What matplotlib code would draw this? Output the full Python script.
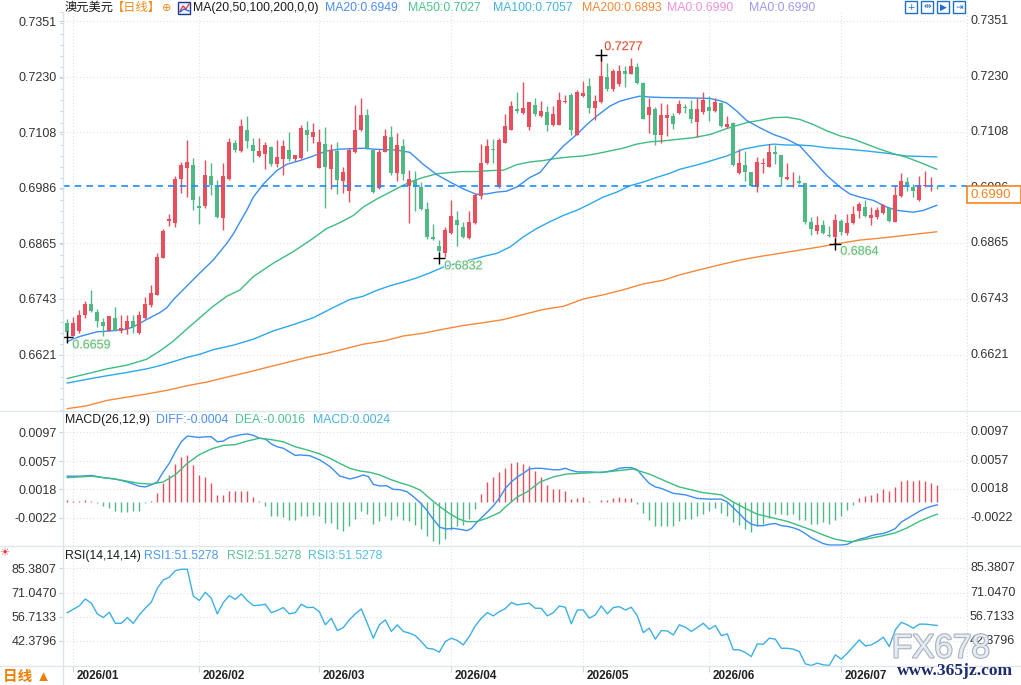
import numpy as np
import matplotlib
matplotlib.use("Agg")
import matplotlib.pyplot as plt
from matplotlib.patches import Rectangle
from matplotlib.lines import Line2D
import matplotlib.patheffects as pe
import matplotlib.transforms as mtrans

plt.rcParams['font.family'] = ['Liberation Sans', 'Noto Sans CJK SC', 'DejaVu Sans']

# ---------------- data ----------------
opens = [
    0.6690, 0.6662, 0.6673, 0.6708, 0.6733, 0.6715, 0.6693, 0.6674, 0.6702, 0.6674,
    0.6678, 0.6694, 0.6668, 0.6701, 0.6730, 0.6752, 0.6833, 0.6914, 0.6909, 0.7006,
    0.7030, 0.7037, 0.6946, 0.6946, 0.7012, 0.6989, 0.6920, 0.7005, 0.7085, 0.7066,
    0.7113, 0.7080, 0.7055, 0.7061, 0.7076, 0.7038, 0.7049, 0.7069, 0.7050, 0.7051,
    0.7113, 0.7098, 0.7030, 0.7082, 0.7027, 0.7067, 0.7001, 0.6979, 0.7064, 0.7113,
    0.7145, 0.7069, 0.6985, 0.7065, 0.7098, 0.7018, 0.7078, 0.6990, 0.7003, 0.6989,
    0.6941, 0.6879, 0.6859, 0.6843, 0.6888, 0.6915, 0.6901, 0.6876, 0.6909, 0.6969,
    0.7040, 0.7072, 0.6988, 0.7085, 0.7113, 0.7159, 0.7150, 0.7120, 0.7167, 0.7144,
    0.7153, 0.7123, 0.7124, 0.7174, 0.7190, 0.7102, 0.7187, 0.7210, 0.7161, 0.7174,
    0.7228, 0.7203, 0.7214, 0.7241, 0.7236, 0.7250, 0.7215, 0.7145, 0.7158, 0.7101,
    0.7140, 0.7143, 0.7150, 0.7163, 0.7158, 0.7131, 0.7153, 0.7163, 0.7154, 0.7173,
    0.7119, 0.7129, 0.7018, 0.7037, 0.7020, 0.6989, 0.7038, 0.7032, 0.7065, 0.7058,
    0.7006, 0.7003, 0.7002, 0.6996, 0.6911, 0.6892, 0.6904, 0.6883, 0.6878, 0.6914,
    0.6888, 0.6909, 0.6935, 0.6944, 0.6920, 0.6922, 0.6932, 0.6943, 0.6912, 0.6968,
    0.6998, 0.6988, 0.6959, 0.6990, 0.6990, 0.6991]
highs = [
    0.6700, 0.6704, 0.6718, 0.6739, 0.6763, 0.6721, 0.6702, 0.6706, 0.6725, 0.6708,
    0.6708, 0.6708, 0.6716, 0.6747, 0.6774, 0.6843, 0.6896, 0.6928, 0.7013, 0.7042,
    0.7091, 0.7051, 0.6968, 0.7048, 0.7041, 0.7004, 0.7041, 0.7095, 0.7091, 0.7138,
    0.7143, 0.7095, 0.7095, 0.7087, 0.7077, 0.7091, 0.7091, 0.7109, 0.7059, 0.7124,
    0.7132, 0.7129, 0.7116, 0.7119, 0.7082, 0.7087, 0.7032, 0.7074, 0.7167, 0.7184,
    0.7158, 0.7070, 0.7072, 0.7115, 0.7121, 0.7107, 0.7093, 0.7025, 0.7024, 0.6998,
    0.6955, 0.6908, 0.6872, 0.6901, 0.6959, 0.6935, 0.6912, 0.6935, 0.6975, 0.7082,
    0.7093, 0.7093, 0.7096, 0.7147, 0.7176, 0.7195, 0.7219, 0.7175, 0.7183, 0.7176,
    0.7165, 0.7165, 0.7197, 0.7190, 0.7194, 0.7200, 0.7221, 0.7226, 0.7189, 0.7277,
    0.7259, 0.7246, 0.7255, 0.7254, 0.7270, 0.7259, 0.7218, 0.7184, 0.7163, 0.7172,
    0.7170, 0.7150, 0.7178, 0.7170, 0.7179, 0.7183, 0.7197, 0.7187, 0.7183, 0.7174,
    0.7143, 0.7130, 0.7071, 0.7067, 0.7021, 0.7053, 0.7051, 0.7083, 0.7080, 0.7059,
    0.7040, 0.7020, 0.7015, 0.6997, 0.6922, 0.6925, 0.6915, 0.6902, 0.6930, 0.6917,
    0.6928, 0.6946, 0.6956, 0.6959, 0.6944, 0.6944, 0.6951, 0.6944, 0.6991, 0.7018,
    0.7011, 0.6995, 0.7013, 0.7024, 0.7011, 0.6993]
lows = [
    0.6659, 0.6661, 0.6668, 0.6702, 0.6715, 0.6682, 0.6662, 0.6673, 0.6673, 0.6669,
    0.6667, 0.6669, 0.6666, 0.6700, 0.6725, 0.6751, 0.6833, 0.6902, 0.6901, 0.6975,
    0.6966, 0.6937, 0.6908, 0.6943, 0.6970, 0.6921, 0.6895, 0.7004, 0.7064, 0.7065,
    0.7074, 0.7043, 0.7053, 0.7027, 0.7035, 0.7032, 0.7014, 0.7046, 0.7046, 0.7050,
    0.7066, 0.7085, 0.7029, 0.6943, 0.6984, 0.6973, 0.6975, 0.6955, 0.7063, 0.7111,
    0.7072, 0.6976, 0.6983, 0.7064, 0.7015, 0.7001, 0.7004, 0.6909, 0.6935, 0.6937,
    0.6875, 0.6872, 0.6832, 0.6834, 0.6886, 0.6859, 0.6877, 0.6875, 0.6908, 0.6962,
    0.7038, 0.7040, 0.6986, 0.7084, 0.7112, 0.7150, 0.7149, 0.7113, 0.7143, 0.7142,
    0.7111, 0.7121, 0.7123, 0.7172, 0.7101, 0.7101, 0.7186, 0.7150, 0.7134, 0.7173,
    0.7199, 0.7199, 0.7210, 0.7208, 0.7235, 0.7213, 0.7137, 0.7106, 0.7080, 0.7085,
    0.7100, 0.7116, 0.7147, 0.7150, 0.7129, 0.7098, 0.7147, 0.7132, 0.7153, 0.7120,
    0.7118, 0.7035, 0.7017, 0.7002, 0.6990, 0.6977, 0.7018, 0.7031, 0.7038, 0.6991,
    0.7004, 0.6988, 0.6995, 0.6908, 0.6883, 0.6886, 0.6886, 0.6879, 0.6864, 0.6883,
    0.6883, 0.6908, 0.6921, 0.6922, 0.6904, 0.6919, 0.6930, 0.6912, 0.6911, 0.6966,
    0.6980, 0.6966, 0.6958, 0.6989, 0.6980, 0.6983]
closes = [
    0.6671, 0.6690, 0.6709, 0.6733, 0.6716, 0.6695, 0.6684, 0.6705, 0.6676, 0.6679,
    0.6694, 0.6682, 0.6708, 0.6731, 0.6757, 0.6834, 0.6891, 0.6917, 0.7006, 0.7037,
    0.7043, 0.6960, 0.6943, 0.7015, 0.6992, 0.6922, 0.7012, 0.7087, 0.7070, 0.7121,
    0.7088, 0.7066, 0.7067, 0.7080, 0.7038, 0.7053, 0.7077, 0.7049, 0.7058, 0.7117,
    0.7101, 0.7108, 0.7087, 0.7031, 0.7069, 0.7003, 0.7022, 0.7069, 0.7113, 0.7145,
    0.7073, 0.6977, 0.7065, 0.7100, 0.7018, 0.7080, 0.7017, 0.7006, 0.6989, 0.6941,
    0.6879, 0.6874, 0.6849, 0.6895, 0.6924, 0.6904, 0.6878, 0.6911, 0.6970, 0.7040,
    0.7078, 0.7069, 0.7091, 0.7121, 0.7165, 0.7154, 0.7161, 0.7174, 0.7148, 0.7154,
    0.7124, 0.7148, 0.7179, 0.7177, 0.7112, 0.7196, 0.7193, 0.7161, 0.7176, 0.7232,
    0.7203, 0.7242, 0.7243, 0.7235, 0.7252, 0.7216, 0.7138, 0.7163, 0.7102, 0.7145,
    0.7145, 0.7125, 0.7170, 0.7160, 0.7137, 0.7158, 0.7178, 0.7155, 0.7174, 0.7121,
    0.7127, 0.7036, 0.7040, 0.7022, 0.6991, 0.7043, 0.7041, 0.7065, 0.7061, 0.7009,
    0.7011, 0.7004, 0.6996, 0.6912, 0.6896, 0.6904, 0.6888, 0.6881, 0.6915, 0.6890,
    0.6910, 0.6930, 0.6950, 0.6925, 0.6926, 0.6937, 0.6948, 0.6914, 0.6970, 0.7002,
    0.6993, 0.6979, 0.6993, 0.6993, 0.6991, 0.6990]

# moving averages (day number, value)
ma20_day = [1, 3.1, 5.9, 8.1, 10.9, 12, 14.2, 16.4, 17.6, 18.7, 20.9, 23.1, 25.3, 27.6, 28.7,
            29.8, 30.9, 32, 33.7, 35.9, 37.6, 39.8, 42, 44.2, 46.4, 50.3, 52, 55.9, 58.1,
            60.3, 62.6, 64.8, 67, 69.2, 70.9, 72.6, 74.2, 75.9, 78.1, 79.8, 81.4, 83.7, 85.9,
            87.6, 89.2, 91.4, 93.1, 94.8, 96.4, 98.1, 100.3, 105.3, 108.1, 109.8, 110.9,
            112.6, 114.2, 116.4, 118.7, 120.9, 123.1, 125.3, 127.6, 129.8, 131.4, 133.1,
            135.3, 137.6, 139.2, 142, 143.7, 145.9]
ma20_val = [0.6650, 0.6661, 0.6671, 0.6673, 0.6677, 0.6682, 0.6698, 0.6713, 0.6724, 0.6742,
            0.6771, 0.6800, 0.6828, 0.6865, 0.6886, 0.6912, 0.6937, 0.6966, 0.6995, 0.7024,
            0.7038, 0.7046, 0.7056, 0.7067, 0.7071, 0.7073, 0.7071, 0.7069, 0.7064, 0.7038,
            0.7015, 0.6999, 0.6984, 0.6972, 0.6973, 0.6977, 0.6979, 0.6988, 0.7009, 0.7020,
            0.7046, 0.7078, 0.7103, 0.7125, 0.7143, 0.7165, 0.7176, 0.7182, 0.7187, 0.7185,
            0.7184, 0.7183, 0.7182, 0.7177, 0.7172, 0.7154, 0.7134, 0.7118, 0.7103, 0.7093,
            0.7078, 0.7046, 0.7013, 0.6988, 0.6973, 0.6966, 0.6959, 0.6944, 0.6937, 0.6933,
            0.6937, 0.6948]
ma50_day = [1, 4.2, 7.6, 10.9, 14.2, 16.4, 18.7, 20.9, 23.1, 25.3, 27.6, 29.8, 32, 35.3, 38.7,
            42, 44.2, 46.4, 48.7, 50.3, 52.6, 54.8, 56.4, 58.1, 60.3, 62.6, 64.8, 67, 69.2,
            71.4, 73.7, 75.9, 78.1, 80.3, 82.6, 84.8, 86.9, 89.2, 91.4, 93.6, 95.9, 98.1,
            100.3, 103.1, 105.3, 108.1, 110.9, 114.2, 116.4, 118.7, 120.9, 123.1, 125.3,
            127.6, 129.8, 132, 134.2, 136.4, 138.7, 140.9, 143.1, 145.9]
ma50_val = [0.6569, 0.6579, 0.6590, 0.6598, 0.6611, 0.6629, 0.6651, 0.6677, 0.6702, 0.6727,
            0.6749, 0.6763, 0.6792, 0.6821, 0.6847, 0.6876, 0.6897, 0.6910, 0.6926, 0.6944,
            0.6962, 0.6977, 0.6988, 0.6999, 0.7009, 0.7017, 0.7020, 0.7022, 0.7022, 0.7024,
            0.7025, 0.7037, 0.7043, 0.7046, 0.7051, 0.7054, 0.7056, 0.7061, 0.7067, 0.7073,
            0.7082, 0.7087, 0.7089, 0.7093, 0.7096, 0.7103, 0.7116, 0.7129, 0.7134, 0.7140,
            0.7141, 0.7136, 0.7125, 0.7111, 0.7100, 0.7093, 0.7082, 0.7071, 0.7061, 0.7053,
            0.7042, 0.7027]
ma100_day = [1, 4.2, 7.6, 10.9, 14.2, 16.4, 18.7, 20.9, 23.1, 25.3, 28.7, 32, 35.3, 38.7, 42,
             45.3, 48.1, 50.3, 52.6, 54.8, 57, 59.2, 61.4, 63.7, 65.9, 68.1, 70.3, 72.6, 74.8,
             77, 79.2, 81.4, 83.7, 85.9, 88.1, 90.3, 92.6, 94.8, 97, 99.2, 101.4, 103.1,
             106.4, 110.9, 113.7, 116.4, 118.7, 120.9, 123.1, 125.3, 127.6, 130.9, 134.2,
             137.6, 140.9, 145.9]
ma100_val = [0.6559, 0.6567, 0.6575, 0.6582, 0.6590, 0.6597, 0.6606, 0.6615, 0.6622, 0.6632,
             0.6642, 0.6655, 0.6673, 0.6687, 0.6702, 0.6724, 0.6742, 0.6749, 0.6762, 0.6772,
             0.6780, 0.6789, 0.6800, 0.6813, 0.6821, 0.6828, 0.6836, 0.6843, 0.6857, 0.6879,
             0.6897, 0.6912, 0.6926, 0.6937, 0.6951, 0.6966, 0.6977, 0.6991, 0.6999, 0.7009,
             0.7018, 0.7027, 0.7038, 0.7056, 0.7071, 0.7078, 0.7082, 0.7080, 0.7080, 0.7078,
             0.7074, 0.7071, 0.7067, 0.7062, 0.7056, 0.7054]
ma200_day = [1, 4.2, 7.6, 10.9, 14.2, 17.6, 20.9, 24.2, 27.6, 30.9, 34.2, 37.6, 40.9, 44.2,
             47.6, 50.3, 53.7, 57, 60.3, 63.7, 67, 70.3, 73.7, 77, 80.3, 83.7, 87, 90.3, 93.6,
             97, 100.3, 103.1, 106.4, 109.8, 113.1, 116.4, 119.8, 123.1, 126.4, 129.8, 133.1,
             136.4, 139.8, 143.1, 145.9]
ma200_val = [0.6503, 0.6509, 0.6521, 0.6528, 0.6535, 0.6543, 0.6553, 0.6561, 0.6572, 0.6582,
             0.6593, 0.6604, 0.6615, 0.6624, 0.6635, 0.6644, 0.6651, 0.6662, 0.6668, 0.6677,
             0.6685, 0.6691, 0.6698, 0.6709, 0.6720, 0.6727, 0.6743, 0.6752, 0.6763, 0.6776,
             0.6784, 0.6796, 0.6807, 0.6818, 0.6828, 0.6836, 0.6843, 0.6850, 0.6857, 0.6865,
             0.6872, 0.6876, 0.6881, 0.6886, 0.6890]

# MACD (values in units of 1e-4)
macd_hist = [3, 2, 2, 3, 2, -2, -6, -9, -12, -14,
             -14, -13, -12, -2, 1, 13, 27, 38, 53, 63,
             66, 52, 38, 35, 27, 10, 10, 15, 15, 15,
             15, 7, 1, -5, -19, -20, -21, -25, -25, -20,
             -20, -18, -20, -29, -29, -38, -40, -34, -24, -12,
             -17, -30, -26, -20, -25, -20, -25, -27, -32, -38,
             -48, -54, -58, -52, -39, -33, -32, -24, -10, 11,
             28, 35, 42, 48, 54, 56, 53, 50, 43, 35,
             24, 18, 18, 15, 4, 5, 7, 1, 0, 3,
             3, 6, 7, 6, 5, -3, -16, -25, -33, -33,
             -34, -34, -27, -24, -24, -20, -17, -13, -9, -16,
             -20, -28, -32, -38, -42, -34, -30, -23, -17, -17,
             -18, -17, -25, -25, -31, -31, -28, -30, -25, -19,
             -11, -4, 6, 9, 10, 13, 18, 15, 21, 29,
             30, 29, 30, 29, 26, 24]
diff_day = [1, 3, 5, 7, 9, 11, 13, 14, 15, 16, 17, 18, 19, 20, 21, 22, 23, 24, 25, 26, 27, 28,
            29, 30, 31, 32, 33, 34, 35, 36, 37, 38, 39, 39.8, 41.4, 43.1, 44.8, 46.4, 48.1,
            49.2, 50.3, 51.2, 52, 53.1, 54.2, 55.3, 56.4, 57.6, 58.7, 59.8, 60.9, 62, 63.1,
            64.2, 65.3, 66.4, 67.6, 68.4, 69.2, 70.9, 72, 73.1, 74, 75, 76, 77, 78, 79, 80,
            81, 82, 83, 84, 85, 86, 87, 88, 90, 92, 93, 94, 95, 96, 97, 98, 99, 100, 102, 104,
            106, 108, 110, 111, 112, 113, 114, 115, 116, 117, 118, 119, 120, 121, 122, 123,
            124, 125, 126, 127, 128, 129, 130, 131, 132, 133, 134, 135, 136, 137, 138, 139,
            140, 141, 142, 143, 144, 145, 146]
diff_val = [36, 36, 37, 34, 32, 28, 22, 21, 24, 28, 42, 54, 70, 84, 92, 91, 90, 91, 91, 84, 85,
            90, 92, 94, 95, 93, 89, 88, 81, 77, 75, 70, 65, 65.6, 64.6, 58.6, 49.3, 36.3, 32.1,
            34.4, 37.7, 35.3, 24.6, 22.3, 22.8, 17.7, 17.2, 14.4, 7.4, -0.9, -11.2, -24.2,
            -35.3, -37.7, -36.7, -38.1, -40, -36.7, -28.8, -14.9, -5.6, 6.5, 19, 28, 35, 40,
            46, 47, 47, 46, 45, 45, 47, 44, 42, 42, 42, 41, 44, 47, 48, 48, 45, 35, 26, 21, 19,
            12, 10, 5, 4, 4, 0, -8, -16, -25, -31, -33, -33, -31, -30, -33, -34, -36, -39,
            -44, -50, -54, -58, -60, -60, -60, -59, -55, -52, -50, -47, -45, -44, -41, -37,
            -28, -23, -18, -13, -9, -6, -4]
dea_day = [1, 5, 9, 13, 15, 17, 19, 21, 23, 25, 27, 29, 31, 33, 35, 37, 39, 41.4, 43.1, 44.8,
           46.4, 48.1, 49.8, 51.4, 53.1, 54.8, 56.4, 58.1, 59.8, 61.4, 63.1, 64.8, 66.4,
           67.6, 69.2, 70.9, 73.1, 74, 76, 77.6, 79.8, 82, 84.2, 86.4, 88.7, 90.9, 93.1,
           95.3, 98, 101, 103, 105, 107, 110, 112, 114, 116, 119, 121, 123, 125, 127, 129,
           131, 132, 134, 137, 139, 141, 143, 145, 146]
dea_val = [34, 36, 32, 26, 25, 28, 38, 54, 66, 74, 79, 80, 85, 89, 87, 84, 77, 71.6, 67.0,
           60.9, 53.9, 47.0, 43.2, 41.4, 37.7, 31.6, 27.0, 22.8, 16.7, 5.1, -6.5, -16.7,
           -24.2, -27.4, -27.4, -22.8, -14.4, -7, 7, 14, 28, 35, 39, 40, 41, 42, 44, 46, 39,
           28, 21, 17, 13, 10, 0, -9, -17, -23, -27, -33, -39, -46, -52, -55, -55, -52, -47,
           -43, -36, -27, -20, -17]

rsi_val = [59.1, 61.1, 63.1, 67.2, 64.7, 58.4, 56.2, 59.4, 52.8, 52.8,
           56.2, 52.8, 57.8, 61.7, 65.3, 73.5, 78.5, 80.1, 84.0, 84.8,
           84.8, 69.0, 66.3, 71.2, 67.6, 58.4, 65.1, 69.2, 67.0, 70.2,
           66.3, 63.3, 63.5, 64.1, 59.1, 60.4, 62.1, 58.4, 59.1, 64.1,
           62.1, 62.3, 59.7, 51.9, 55.8, 48.5, 50.3, 54.8, 58.4, 61.3,
           52.8, 44.0, 51.9, 54.8, 48.0, 51.9, 48.0, 47.0, 45.5, 42.0,
           38.0, 37.5, 35.7, 42.0, 44.0, 42.6, 40.0, 45.0, 51.3, 55.8,
           59.1, 57.2, 59.7, 61.5, 65.1, 63.7, 64.3, 64.7, 61.7, 61.7,
           57.2, 59.1, 63.1, 62.3, 52.5, 60.7, 60.7, 55.8, 57.8, 63.1,
           58.4, 62.1, 62.7, 60.7, 62.3, 57.2, 47.3, 49.9, 43.4, 48.5,
           48.3, 45.9, 51.9, 50.5, 48.0, 50.3, 52.8, 49.3, 51.5, 45.5,
           46.5, 37.1, 37.1, 35.5, 33.1, 40.6, 40.4, 44.0, 43.4, 38.0,
           38.0, 37.5, 36.1, 28.8, 27.8, 29.2, 28.2, 27.8, 34.1, 31.6,
           35.1, 39.0, 43.0, 39.4, 40.0, 42.0, 44.6, 39.0, 48.9, 53.4,
           51.9, 49.9, 52.3, 52.3, 51.9, 51.5]

month_labels = ['2026/01', '2026/02', '2026/03', '2026/04', '2026/05', '2026/06', '2026/07']
month_day = [2, 23, 43, 65, 87, 108, 130]

price_ticks = [0.7351, 0.7230, 0.7108, 0.6986, 0.6865, 0.6743, 0.6621]
price_labels = ['0.7351', '0.7230', '0.7108', '0.6986', '0.6865', '0.6743', '0.6621']
macd_ticks = [0.0097, 0.0057, 0.0018, -0.0022]
macd_labels = ['0.0097', '0.0057', '0.0018', '-0.0022']
rsi_ticks = [85.3807, 71.0470, 56.7133, 42.3796]
rsi_labels = ['85.3807', '71.0470', '56.7133', '42.3796']
last_price = 0.6990

# extremes shown on the chart: (day, price, label, kind)
extremes = [(90, 0.7277, '0.7277', 'high'), (63, 0.6832, '0.6832', 'low'),
            (129, 0.6864, '0.6864', 'low'), (1, 0.6659, '0.6659', 'low')]

# ---------------- styles ----------------
RED = '#ea4d5b'
GREEN = '#4fb985'
C_MA20 = '#3a8ef2'
C_MA50 = '#3dbd7e'
C_MA100 = '#2ba9ea'
C_MA200 = '#f5893a'
C_RSI = '#3bb0e8'
GRID = '#dde2e8'
TXT = '#333333'

W, H = 1021, 685
fig = plt.figure(figsize=(W / 100, H / 100), dpi=100)
fig.patch.set_facecolor('white')


def rect(x0, y0, x1, y1):
    return [x0 / W, 1 - y1 / H, (x1 - x0) / W, (y1 - y0) / H]


def fx(px):
    return px / W


def fy(py):
    return 1 - py / H


XL, XR = 63, 967
ax = fig.add_axes(rect(XL, 12, XR, 410))
axm = fig.add_axes(rect(XL, 411, XR, 546))
axr = fig.add_axes(rect(XL, 546, XR, 666))

xlim = (1 + (XL - 67.3) / 6, 1 + (XR - 67.3) / 6)
right_off = mtrans.ScaledTranslation(3 / 100, 0, fig.dpi_scale_trans)

for a, tv, tl in [(ax, price_ticks, price_labels), (axm, macd_ticks, macd_labels),
                  (axr, rsi_ticks, rsi_labels)]:
    a.set_facecolor('none')
    for s in a.spines.values():
        s.set_visible(False)
    a.set_xlim(*xlim)
    a.set_yticks(tv)
    a.set_yticklabels(tl)
    a.tick_params(axis='y', left=True, right=False, length=3, width=0.8, color='#c9d1da',
                  pad=1.5, labelsize=9, labelcolor=TXT)
    a.tick_params(axis='x', bottom=False, labelbottom=False)
    for v, s in zip(tv, tl):
        a.axhline(v, color=GRID, lw=0.8, ls=(0, (1, 2)), zorder=0)
        a.text(1.0, v, s, transform=a.get_yaxis_transform() + right_off, ha='left',
               va='center', fontsize=9, color=TXT)
    for m in month_day:
        a.axvline(m, color=GRID, lw=0.8, ls=(0, (1, 2)), zorder=0)

# ---------------- main price panel ----------------
ax.set_ylim(0.65028, 0.73668)
step = (price_ticks[0] - price_ticks[1]) / 5
ax.set_yticks(np.arange(price_ticks[-1] - 5 * step, price_ticks[0] + step, step), minor=True)
ax.tick_params(axis='y', which='minor', length=2, width=0.7, color='#c9d1da')

days = np.arange(1, len(closes) + 1)
o = np.array(opens)
h = np.array(highs)
l = np.array(lows)
c = np.array(closes)
up = c >= o
cols = np.where(up, RED, GREEN)
ax.vlines(days, l, h, colors=cols, lw=1.0, zorder=3)
body_lo = np.minimum(o, c)
body_h = np.maximum(np.abs(c - o), 0.00012)
ax.bar(days, body_h, bottom=body_lo, width=0.7, color=cols, linewidth=0, zorder=4)

ax.plot(ma200_day, ma200_val, color=C_MA200, lw=1.0, zorder=2)
ax.plot(ma100_day, ma100_val, color=C_MA100, lw=1.0, zorder=2)
ax.plot(ma50_day, ma50_val, color=C_MA50, lw=1.0, zorder=2)
ax.plot(ma20_day, ma20_val, color=C_MA20, lw=1.0, zorder=2)

ax.axhline(last_price, color='#1a8cff', lw=1.2, ls=(0, (4, 3)), zorder=5)

halo = [pe.withStroke(linewidth=1.4, foreground='#f8f3dc')]
for d, p, s, kind in extremes:
    ax.plot([d], [p], marker='+', color='black', ms=8, mew=1.0, zorder=6)
    if kind == 'high':
        ax.annotate(s, xy=(d, p), xytext=(3, 8), textcoords='offset pixels', ha='left',
                    va='center', fontsize=9, color='#e2404f', path_effects=halo, zorder=7)
    else:
        ax.annotate(s, xy=(d, p), xytext=(5, -8), textcoords='offset pixels', ha='left',
                    va='center', fontsize=9, color='#4fbf92', path_effects=halo, zorder=7)

# ---------------- MACD panel ----------------
axm.set_ylim(-0.006138, 0.012695)
hv = np.array(macd_hist) * 1e-4
axm.vlines(days, 0, hv, colors=np.where(hv >= 0, RED, GREEN), lw=1.0, zorder=2)
axm.plot(diff_day, np.array(diff_val) * 1e-4, color=C_MA20, lw=1.0, zorder=3)
axm.plot(dea_day, np.array(dea_val) * 1e-4, color=C_MA50, lw=1.0, zorder=3)

# ---------------- RSI panel ----------------
axr.set_ylim(27.5, 98.6)
axr.plot(days, rsi_val, color=C_RSI, lw=1.0, zorder=3)
axr.set_xticks(month_day)
axr.tick_params(axis='x', bottom=True, length=4.5, width=0.8, color='#cfd6de',
                direction='out', labelbottom=False)
for m, s in zip(month_day, month_labels):
    axr.annotate(s, xy=(m, 0), xycoords=('data', 'axes fraction'), xytext=(3, -10),
                 textcoords='offset pixels', ha='left', va='center', fontsize=8.5,
                 fontweight='bold', color='#222222', annotation_clip=False)

# ---------------- frame lines ----------------
for yy in (411, 546, 666):
    fig.add_artist(Line2D([0, 1], [fy(yy), fy(yy)], color='#e1e6eb', lw=1))
fig.add_artist(Line2D([fx(XL), fx(XL)], [fy(12), 0], color='#dce3ea', lw=1))
fig.add_artist(Line2D([fx(XR), fx(XR)], [fy(12), fy(666)], color='#d5dbe2', lw=0.8,
                      ls=(0, (1, 2))))

# ---------------- header texts ----------------
hy = fy(8)
hs = 8.8
fig.text(fx(65), hy, '澳元美元', fontsize=hs, color='#1a1a1a', va='center')
fig.text(fx(112), hy, '【日线】', fontsize=hs, color='#f08a1c', va='center')
fig.text(fx(162), hy, '⊕', fontsize=8, color='#f08a1c', va='center',
         family=['DejaVu Sans'])
fig.add_artist(Rectangle((fx(178), fy(14)), 12 / W, 12 / H, transform=fig.transFigure,
                         fc='#eef3ff', ec='#1b3a8c', lw=1))
fig.add_artist(Line2D([fx(180), fx(183), fx(186), fx(189)], [fy(11), fy(6), fy(9), fy(4)],
                      color='#e03b3b', lw=0.9))
fig.add_artist(Line2D([fx(180), fx(184), fx(189)], [fy(12), fy(9), fy(11)],
                      color='#2a5bd7', lw=0.9))
fig.text(fx(193), hy, 'MA(20,50,100,200,0,0)', fontsize=hs, color='#1a1a1a', va='center')
fig.text(fx(325), hy, 'MA20:0.6949', fontsize=hs, color='#4a8ff2', va='center')
fig.text(fx(408), hy, 'MA50:0.7027', fontsize=hs, color='#4cc38d', va='center')
fig.text(fx(493), hy, 'MA100:0.7057', fontsize=hs, color='#44b2e6', va='center')
fig.text(fx(582), hy, 'MA200:0.6893', fontsize=hs, color='#f5893a', va='center')
fig.text(fx(667), hy, 'MA0:0.6990', fontsize=hs, color='#ef8fdd', va='center')
fig.text(fx(749), hy, 'MA0:0.6990', fontsize=hs, color='#a097f4', va='center')

for i, g in enumerate(['+', '⇹', '▶', '⇥']):
    x0 = 905 + 16 * i
    fig.add_artist(Rectangle((fx(x0), fy(13)), 12 / W, 12 / H, transform=fig.transFigure,
                             fc='white', ec='#1f6fc8', lw=1))
    fig.text(fx(x0 + 6), fy(7), g, fontsize=6.5, color='#1f6fc8', ha='center', va='center',
             family=['DejaVu Sans'])

# MACD header
my = fy(420)
fig.text(fx(65), my, 'MACD(26,12,9)', fontsize=hs, color='#1a1a1a', va='center')
fig.text(fx(156), my, 'DIFF:-0.0004', fontsize=hs, color='#4a8ff2', va='center')
fig.text(fx(235), my, 'DEA:-0.0016', fontsize=hs, color='#4cc38d', va='center')
fig.text(fx(313), my, 'MACD:0.0024', fontsize=hs, color='#44b2e6', va='center')

# RSI header
ry = fy(556)
fig.text(fx(4), fy(553), '☀', fontsize=8, color='#e03030', ha='center', va='center',
         family=['DejaVu Sans'])
fig.text(fx(65), ry, 'RSI(14,14,14)', fontsize=hs, color='#1a1a1a', va='center')
fig.text(fx(144), ry, 'RSI1:51.5278', fontsize=hs, color='#4d9af0', va='center')
fig.text(fx(227), ry, 'RSI2:51.5278', fontsize=hs, color='#5cc497', va='center')
fig.text(fx(308), ry, 'RSI3:51.5278', fontsize=hs, color='#55bde8', va='center')

# last price box on right axis
fig.add_artist(Rectangle((fx(967), fy(203)), (W - 967) / W, 17 / H, transform=fig.transFigure,
                         fc='white', ec='#f5841f', lw=1.2, zorder=5))
fig.text(fx(970), fy(195), '0.6990', fontsize=9.5, color='#f5841f', va='center', zorder=6)

# bottom-left period label
fig.text(fx(3), fy(677), '日线 ▲', fontsize=10.5, color='#f07c00', fontweight='bold',
         va='center')

# watermark
fig.text(fx(941), fy(649), 'FX678', fontsize=24, color='#e6ebf2', ha='center', va='center',
         path_effects=[pe.Stroke(linewidth=1.6, foreground='#a8b3c1'), pe.Normal()], zorder=8)
fig.text(fx(955), fy(671), 'www.365jz.com', fontsize=12.5, color='#1d2c6b', ha='center',
         va='center', fontweight='bold', family=['Liberation Serif', 'DejaVu Serif'], zorder=8)

fig.savefig('out.png', dpi=100, facecolor='white')
